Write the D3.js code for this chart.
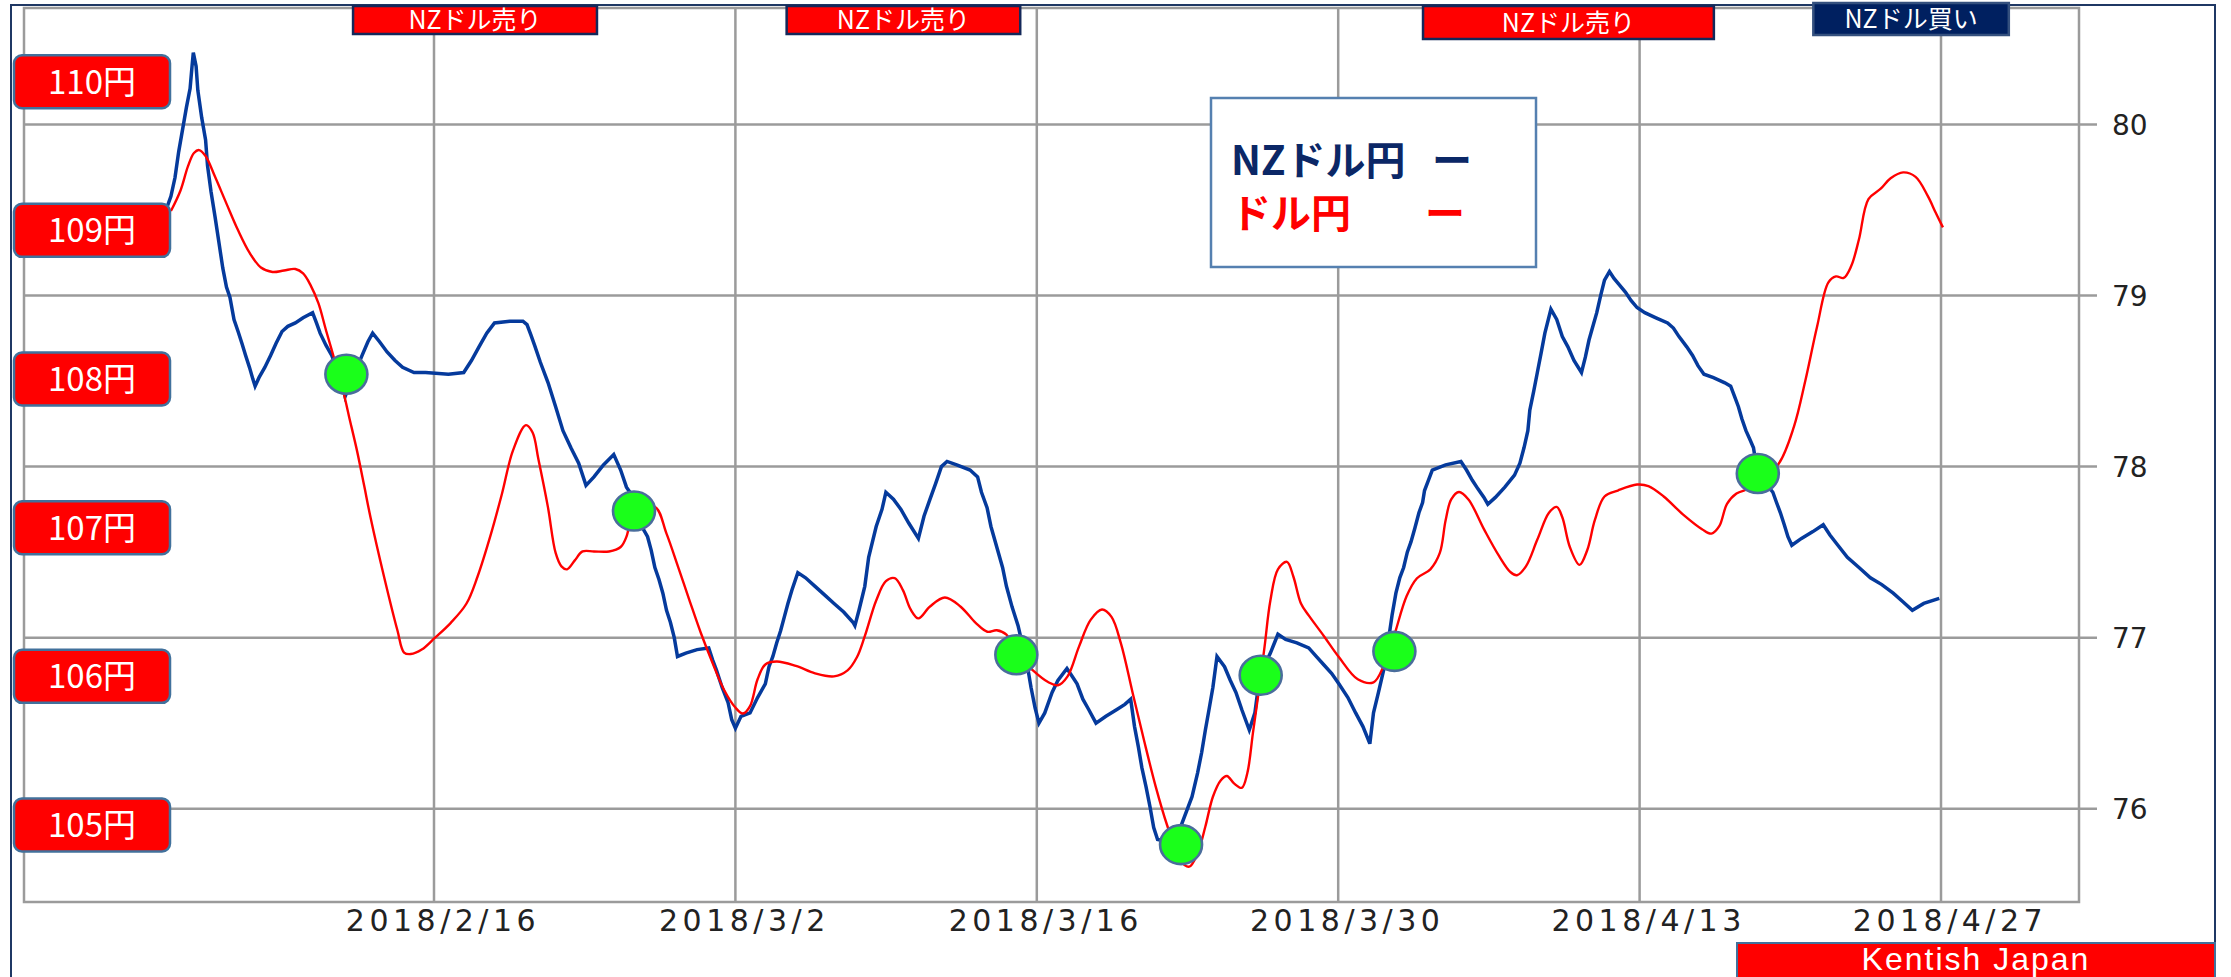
<!DOCTYPE html>
<html><head><meta charset="utf-8">
<script src="https://cdn.jsdelivr.net/npm/d3@7"></script>
<style>html,body{margin:0;padding:0;background:#fff;} svg{display:block;}</style>
</head><body>
<svg id="chart" width="2231" height="977"></svg>
<script>
// ---------------- DATA ----------------
// day offsets are days after 2018-02-16
const baseDay = "2018-02-16";
const tickDates = ["2018-02-16","2018-03-02","2018-03-16","2018-03-30","2018-04-13","2018-04-27"];
const tickLabels = ["2018/2/16","2018/3/2","2018/3/16","2018/3/30","2018/4/13","2018/4/27"];
const rightTicks = [76,77,78,79,80];
const yenLabels = [110,109,108,107,106,105];

const nzdDays = [-12.45,-12.22,-12.03,-11.86,-11.68,-11.50,-11.33,-11.24,-11.18,-11.05,-10.97,-10.79,-10.61,-10.52,-10.36,-10.17,-9.99,-9.81,-9.64,-9.48,-9.29,-9.10,-8.92,-8.75,-8.57,-8.41,-8.31,-8.13,-7.86,-7.59,-7.34,-7.06,-6.79,-6.44,-6.08,-5.64,-5.46,-5.29,-5.02,-4.75,-4.30,-4.13,-3.34,-3.07,-2.85,-2.53,-2.18,-1.81,-1.46,-0.93,-0.39,0.67,1.38,1.74,2.09,2.45,2.81,3.52,4.13,4.32,4.50,4.67,4.94,5.30,5.65,5.99,6.36,6.72,7.06,7.43,7.87,8.35,8.67,8.94,9.10,9.29,9.92,10.09,10.26,10.45,10.63,10.80,10.98,11.16,11.31,11.70,12.22,12.76,12.94,13.12,13.38,13.66,13.83,14.00,14.26,14.68,15.03,15.39,15.56,15.74,15.92,16.10,16.27,16.44,16.63,16.90,17.26,17.70,18.14,18.58,19.03,19.46,19.55,19.74,20.01,20.19,20.54,20.81,20.99,21.34,21.69,22.05,22.50,22.76,23.04,23.30,23.57,23.83,24.28,24.90,25.25,25.43,25.69,25.87,26.14,26.41,26.59,26.85,27.13,27.57,27.73,27.92,28.10,28.37,28.71,28.98,29.40,29.61,29.87,30.14,30.41,30.75,31.21,31.72,32.09,32.36,32.54,32.72,32.88,33.07,33.26,33.43,33.61,34.40,35.21,35.47,35.66,35.83,36.00,36.18,36.37,36.72,36.99,37.25,37.52,37.87,38.13,38.36,38.85,39.20,39.56,40.08,40.63,40.98,41.34,41.70,42.03,42.45,42.81,43.15,43.47,43.64,43.87,44.11,44.35,44.50,44.68,44.86,45.04,45.21,45.38,45.56,45.75,45.92,46.01,46.19,46.37,46.99,47.70,47.96,48.23,48.49,48.77,48.95,49.30,49.74,50.19,50.44,50.63,50.81,50.90,51.08,51.25,51.42,51.60,51.88,52.15,52.41,52.67,52.95,53.30,53.48,53.65,53.83,54.01,54.19,54.37,54.60,54.81,55.08,55.34,55.61,55.88,56.24,56.76,57.30,57.57,57.83,58.19,58.46,58.71,58.99,59.43,59.96,60.23,60.41,60.59,60.75,60.94,61.12,61.29,61.48,62.19,62.36,62.54,62.72,62.89,63.07,63.52,64.05,64.53,64.84,65.21,65.65,66.19,66.72,67.25,67.78,68.23,68.67,69.20,69.92];
const nzdValues = [79.50,79.58,79.69,79.84,79.97,80.10,80.21,80.34,80.42,80.34,80.20,80.04,79.91,79.76,79.61,79.46,79.31,79.16,79.05,78.99,78.86,78.79,78.72,78.65,78.58,78.51,78.47,78.52,78.58,78.65,78.72,78.79,78.82,78.84,78.87,78.90,78.84,78.78,78.71,78.65,78.50,78.41,78.65,78.73,78.78,78.73,78.67,78.62,78.58,78.55,78.55,78.54,78.55,78.62,78.70,78.78,78.84,78.85,78.85,78.83,78.77,78.71,78.61,78.49,78.35,78.21,78.11,78.02,77.89,77.94,78.01,78.07,77.98,77.88,77.85,77.73,77.59,77.51,77.41,77.34,77.26,77.16,77.09,77.00,76.89,76.91,76.93,76.94,76.87,76.81,76.71,76.62,76.52,76.47,76.54,76.56,76.65,76.73,76.83,76.89,76.97,77.04,77.12,77.20,77.28,77.38,77.35,77.30,77.25,77.20,77.15,77.09,77.07,77.16,77.30,77.47,77.65,77.75,77.85,77.81,77.75,77.67,77.58,77.71,77.81,77.90,78.00,78.03,78.01,77.98,77.94,77.85,77.76,77.65,77.53,77.41,77.30,77.18,77.07,76.83,76.71,76.59,76.50,76.56,76.68,76.75,76.82,76.78,76.73,76.64,76.58,76.50,76.54,76.58,76.61,76.64,76.48,76.36,76.24,76.13,76.01,75.89,75.82,75.80,76.07,76.21,76.33,76.46,76.58,76.71,76.89,76.83,76.75,76.68,76.58,76.46,76.56,76.78,76.91,77.02,76.99,76.97,76.94,76.89,76.84,76.79,76.73,76.65,76.56,76.48,76.38,76.56,76.68,76.81,77.00,77.13,77.26,77.35,77.41,77.50,77.56,77.64,77.73,77.79,77.86,77.92,77.98,78.01,78.03,77.98,77.92,77.87,77.82,77.78,77.82,77.88,77.95,78.02,78.11,78.21,78.33,78.44,78.55,78.66,78.78,78.92,78.86,78.76,78.70,78.62,78.55,78.64,78.74,78.82,78.90,79.00,79.09,79.14,79.10,79.06,79.02,78.97,78.93,78.90,78.87,78.84,78.81,78.76,78.70,78.65,78.59,78.54,78.52,78.49,78.47,78.41,78.35,78.28,78.21,78.16,78.11,77.96,77.85,77.79,77.73,77.66,77.59,77.54,77.58,77.62,77.66,77.60,77.54,77.47,77.41,77.35,77.31,77.26,77.21,77.16,77.20,77.23];

const usdDays = [-12.22,-11.77,-11.43,-11.15,-10.91,-10.61,-10.17,-9.64,-9.10,-8.57,-8.04,-7.50,-6.97,-6.44,-6.08,-5.73,-5.37,-5.02,-4.66,-4.30,-3.95,-3.58,-3.24,-2.95,-2.32,-1.70,-1.39,-1.08,-0.57,0.05,0.78,1.51,2.02,2.65,3.16,3.67,4.27,4.58,4.85,5.29,5.65,5.92,6.18,6.54,6.90,7.43,8.13,8.67,8.94,9.12,9.29,10.26,10.80,11.33,11.87,12.40,12.94,13.47,14.00,14.35,14.68,15.03,15.39,15.92,16.81,17.70,18.58,19.21,19.65,20.01,20.54,20.99,21.40,21.78,22.14,22.50,23.04,23.73,24.45,25.16,25.70,26.14,26.59,27.03,27.82,28.54,28.98,29.43,29.96,30.50,31.03,31.47,31.91,32.45,32.98,33.52,34.05,34.67,35.08,35.47,35.83,36.18,36.54,36.83,37.16,37.52,37.78,38.04,38.32,38.58,38.85,39.20,39.62,39.92,40.27,40.63,41.34,42.03,42.91,43.64,44.11,44.59,45.18,45.66,46.28,46.72,46.99,47.25,47.61,48.05,48.77,49.47,50.01,50.30,50.72,51.25,51.79,52.15,52.41,52.76,53.21,53.57,53.92,54.37,54.99,55.88,56.41,57.12,58.01,58.90,59.34,59.70,60.06,60.50,61.04,61.48,62.46,63.17,63.70,64.24,64.77,65.12,65.48,65.83,66.19,66.63,67.20,67.66,68.24,68.82,69.39,69.75,70.09];
const usdValues = [109.13,109.27,109.43,109.52,109.54,109.50,109.36,109.18,109.00,108.85,108.75,108.72,108.73,108.74,108.71,108.63,108.51,108.33,108.15,107.97,107.75,107.52,107.28,107.07,106.67,106.31,106.16,106.15,106.18,106.26,106.36,106.49,106.67,106.96,107.23,107.52,107.69,107.64,107.46,107.14,106.83,106.74,106.72,106.78,106.84,106.84,106.84,106.87,106.94,107.05,107.11,107.14,106.96,106.74,106.51,106.29,106.09,105.91,105.79,105.75,105.80,105.98,106.08,106.10,106.07,106.02,106.00,106.04,106.13,106.27,106.51,106.64,106.66,106.58,106.45,106.39,106.47,106.53,106.47,106.36,106.30,106.31,106.28,106.16,106.04,105.96,105.94,106.00,106.20,106.38,106.45,106.40,106.22,105.89,105.57,105.26,105.00,104.76,104.72,104.81,104.99,105.19,105.30,105.33,105.28,105.25,105.35,105.62,105.91,106.20,106.51,106.72,106.77,106.67,106.49,106.41,106.27,106.13,105.98,105.96,106.07,106.27,106.54,106.66,106.72,106.83,107.05,107.19,107.24,107.19,106.99,106.81,106.70,106.68,106.74,106.92,107.10,107.14,107.07,106.87,106.75,106.85,107.05,107.21,107.25,107.29,107.28,107.21,107.09,106.99,106.96,107.01,107.16,107.23,107.26,107.30,107.43,107.68,107.99,108.35,108.65,108.69,108.68,108.76,108.94,109.21,109.28,109.35,109.39,109.36,109.23,109.12,109.02];

// crossing markers (NZD/JPY value at the crossing)
const crossDays = [-4.07, 9.29, 27.05, 34.70, 38.40, 44.61, 61.49];
const crossValues = [78.54, 77.74, 76.90, 75.79, 76.78, 76.92, 77.96];

// trade signal bands at the top
const signalStart = [-3.76, 16.38, 45.94, 64.07];
const signalEnd = [7.57, 27.23, 59.45, 73.15];
const signalLabels = ["NZドル売り","NZドル売り","NZドル売り","NZドル買い"];
const signalTypes = ["sell","sell","sell","buy"];

const legendLabels = ["NZドル円","ドル円"];
const legendMarks = ["ー","ー"];
const creditLabel = "Kentish Japan";

// ---------------- LAYOUT ----------------
const svg = d3.select("#chart");
const plot = {left: 24, right: 2079, top: 8, bottom: 902};
const parse = d3.timeParse("%Y-%m-%d");
const base = parse(baseDay);
const toDate = d => new Date(base.getTime() + d * 864e5);

const x = d3.scaleTime().domain([toDate(0), toDate(70)]).range([434, 1941]);
const yR = d3.scaleLinear().domain([76, 80]).range([808.7, 124.5]);
const yL = d3.scaleLinear().domain([105, 110]).range([825, 81.7]);

const NAVY = "#1f3864", GRID = "#9b9b9b", BLUE = "#053a9c", RED = "#ff0000";
const JP = "'Noto Sans CJK JP','Noto Sans',sans-serif";

svg.append("rect").attr("width", 2231).attr("height", 977).attr("fill", "#fff");

// outer frame
svg.append("rect").attr("x", 11).attr("y", 5).attr("width", 2204).attr("height", 1020)
  .attr("fill", "none").attr("stroke", NAVY).attr("stroke-width", 2);

// grid
const g = svg.append("g");
const tickD = tickDates.map(parse);
g.selectAll(".vg").data(tickD).join("line")
  .attr("x1", d => x(d)).attr("x2", d => x(d))
  .attr("y1", plot.top).attr("y2", plot.bottom)
  .attr("stroke", GRID).attr("stroke-width", 2.5);
g.selectAll(".hg").data(rightTicks).join("line")
  .attr("x1", plot.left).attr("x2", plot.right + 18)
  .attr("y1", d => yR(d)).attr("y2", d => yR(d))
  .attr("stroke", GRID).attr("stroke-width", 2.5);
// plot border
g.append("path")
  .attr("d", `M${plot.left},${plot.top}V${plot.bottom}H${plot.right}V${plot.top}Z`)
  .attr("fill", "none").attr("stroke", GRID).attr("stroke-width", 2.5);

// right axis labels
svg.selectAll(".ry").data(rightTicks).join("text")
  .attr("x", 2112).attr("y", d => yR(d) + 10)
  .attr("font-family", "'DejaVu Sans',sans-serif").attr("font-size", 28)
  .attr("fill", "#222").text(d => d);

// x axis labels
svg.selectAll(".xl").data(tickD).join("text")
  .attr("x", (d) => x(d) + 9).attr("y", 931)
  .attr("text-anchor", "middle")
  .attr("font-family", "'DejaVu Sans',sans-serif").attr("font-size", 30)
  .attr("letter-spacing", 4.5).attr("fill", "#222")
  .text((d, i) => tickLabels[i]);

// NZD/JPY line
const nzd = nzdDays.map((d, i) => [toDate(d), nzdValues[i]]);
svg.append("path").datum(nzd)
  .attr("d", d3.line().x(d => x(d[0])).y(d => yR(d[1])))
  .attr("fill", "none").attr("stroke", BLUE).attr("stroke-width", 3.5)
  .attr("stroke-linejoin", "miter");

// USD/JPY line
const usd = usdDays.map((d, i) => [toDate(d), usdValues[i]]);
svg.append("path").datum(usd)
  .attr("d", d3.line().curve(d3.curveCatmullRom.alpha(0.5)).x(d => x(d[0])).y(d => yL(d[1])))
  .attr("fill", "none").attr("stroke", RED).attr("stroke-width", 2.4);

// crossing markers
svg.selectAll(".cross").data(crossDays).join("ellipse")
  .attr("cx", d => x(toDate(d))).attr("cy", (d, i) => yR(crossValues[i]))
  .attr("rx", 21).attr("ry", 19.5)
  .attr("fill", "#1aff1a").attr("stroke", "#4a6d9c").attr("stroke-width", 2.6);

// left yen labels
const yl = svg.selectAll(".yen").data(yenLabels).join("g");
yl.append("rect")
  .attr("x", 14).attr("y", d => yL(d) - 26.5).attr("width", 156).attr("height", 53)
  .attr("rx", 8).attr("fill", RED).attr("stroke", "#41719c").attr("stroke-width", 2.5);
yl.append("text")
  .attr("x", 92).attr("y", d => yL(d) + 12)
  .attr("text-anchor", "middle").attr("font-family", JP).attr("font-size", 33)
  .attr("fill", "#fff").text(d => d + "円");

// top signal boxes
const boxH = [28, 28, 33, 32], boxY = [6, 6, 6, 3];
const sg = svg.selectAll(".sig").data(signalLabels).join("g");
sg.append("rect")
  .attr("x", (d, i) => x(toDate(signalStart[i])))
  .attr("y", (d, i) => boxY[i])
  .attr("width", (d, i) => x(toDate(signalEnd[i])) - x(toDate(signalStart[i])))
  .attr("height", (d, i) => boxH[i])
  .attr("fill", (d, i) => signalTypes[i] === "buy" ? "#002060" : RED)
  .attr("stroke", (d, i) => signalTypes[i] === "buy" ? "#34507e" : "#14285a")
  .attr("stroke-width", 2.5);
sg.append("text")
  .attr("x", (d, i) => (x(toDate(signalStart[i])) + x(toDate(signalEnd[i]))) / 2)
  .attr("y", (d, i) => boxY[i] + boxH[i] / 2 + 9)
  .attr("text-anchor", "middle").attr("font-family", JP).attr("font-size", 25)
  .attr("fill", "#fff").text(d => d);

// legend
const lg = svg.append("g");
lg.append("rect").attr("x", 1211).attr("y", 98).attr("width", 325).attr("height", 169)
  .attr("fill", "#fff").attr("stroke", "#5580b0").attr("stroke-width", 2.5);
const legendColors = ["#0b2766", RED];
legendLabels.forEach((t, i) => {
  const yb = 175 + i * 53;
  lg.append("text").attr("x", 1231).attr("y", yb)
    .attr("font-family", JP).attr("font-size", 40).attr("font-weight", "bold")
    .attr("fill", legendColors[i]).text(t);
  lg.append("text").attr("x", i === 0 ? 1432 : 1425).attr("y", yb)
    .attr("font-family", JP).attr("font-size", 40).attr("font-weight", "bold")
    .attr("fill", legendColors[i]).text(legendMarks[i]);
});

// credit
svg.append("rect").attr("x", 1737).attr("y", 943).attr("width", 478).attr("height", 50)
  .attr("fill", RED).attr("stroke", "#41719c").attr("stroke-width", 2);
svg.append("text").attr("x", 1976).attr("y", 970).attr("text-anchor", "middle")
  .attr("font-family", "'Liberation Sans',Arial,sans-serif").attr("font-size", 32)
  .attr("letter-spacing", 2)
  .attr("fill", "#fff").text(creditLabel);
</script>
</body></html>
